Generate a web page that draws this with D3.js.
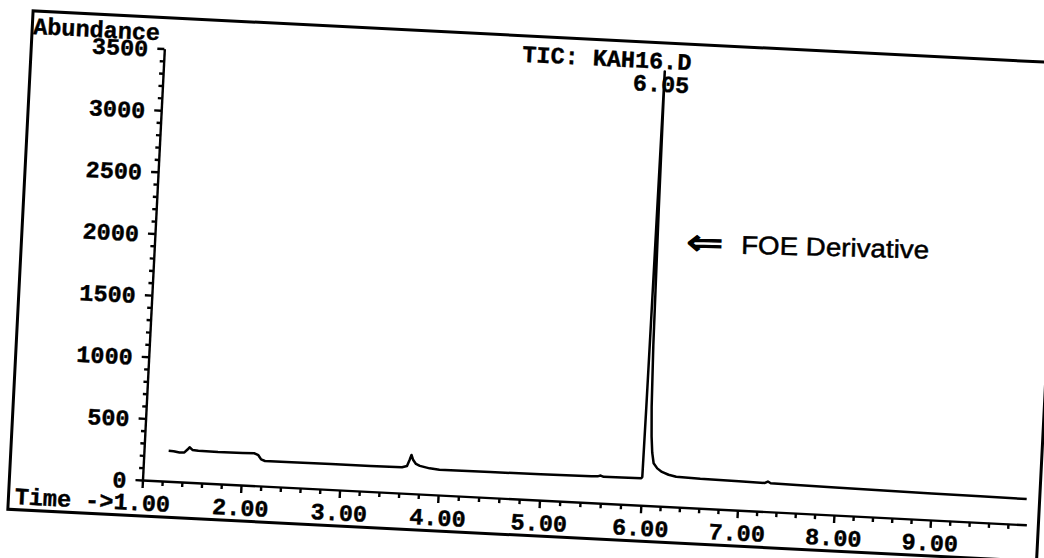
<!DOCTYPE html>
<html>
<head>
<meta charset="utf-8">
<script src="https://cdn.jsdelivr.net/npm/d3@7"></script>
<style>
body { margin: 0; background: #fff; }
svg { display: block; }
.mono { font-family: "Liberation Mono", "DejaVu Sans Mono", monospace; font-weight: bold; font-size: 23.5px; fill: #000; stroke: #000; stroke-width: 0.4px; }
</style>
</head>
<body>
<svg id="chart" width="1044" height="558"></svg>
<script>
// TIC trace (time in min, abundance)
var times = [1.25, 1.30, 1.36, 1.41, 1.44, 1.46, 1.49, 1.55, 1.75, 2.00, 2.12, 2.16, 2.19, 2.23,
             2.50, 2.90, 3.30, 3.62, 3.67, 3.695, 3.71, 3.73, 3.76, 3.80, 3.90, 4.00, 4.50, 5.00,
             5.50, 5.56, 5.59, 5.62, 5.80, 5.99, 6.00, 6.005, 6.012, 6.02, 6.03, 6.045, 6.06,
             6.075, 6.09, 6.11, 6.15, 6.20, 6.27, 6.35, 6.60, 7.00, 7.27, 7.30, 7.33, 7.60,
             8.00, 8.50, 9.00, 9.50, 9.98];
var abundance = [248, 246, 238, 240, 265, 284, 264, 260, 258, 260, 262, 248, 215, 204,
                 205, 207, 206, 210, 222, 275, 313, 272, 242, 228, 212, 205, 207, 210,
                 214, 216, 224, 215, 216, 218, 230, 800, 2000, 3520, 2400, 1300, 800,
                 560, 430, 345, 305, 278, 258, 245, 238, 234, 231, 244, 231, 228,
                 224, 219, 215, 211, 208];

var xTicks = [1, 2, 3, 4, 5, 6, 7, 8, 9];
var yTicks = [0, 500, 1000, 1500, 2000, 2500, 3000, 3500];
var title = "TIC: KAH16.D";
var peakLabel = "6.05";
var yTitle = "Abundance";
var xTitle = "Time ->";
var note = "FOE Derivative";

var data = times.map(function(t, i){ return {t: t, a: abundance[i]}; });

// the print was scanned a bit crooked and stretched, so the time scale is piecewise
var x = d3.scaleLinear().domain([1, 4, 6, 9, 9.99]).range([0, 296, 499, 789, 885]);
var y = d3.scaleLinear().domain([0, 3500]).range([0, -432]);

var svg = d3.select("#chart");
var g = svg.append("g").attr("transform", "translate(142.5,480) rotate(2.9)");

// outer frame of the print
g.append("rect")
    .attr("x", -133).attr("y", -463)
    .attr("width", 1030).attr("height", 499)
    .attr("fill", "none").attr("stroke", "#000").attr("stroke-width", 3);

//minor ticks
var xMinor = d3.range(1.2, 9.9, 0.2).filter(function(v){ return Math.abs(v - Math.round(v)) > 0.05; });
var yMinor = d3.range(100, 3500, 100).filter(function(v){ return v % 500 != 0; });

g.append("g")
    .call(d3.axisBottom(x).tickValues(xMinor).tickSize(5).tickSizeOuter(0).tickFormat(""))
    .call(function(s){ s.select(".domain").remove(); });
g.append("g")
    .call(d3.axisLeft(y).tickValues(yMinor).tickSize(4).tickSizeOuter(0).tickFormat(""))
    .call(function(s){ s.select(".domain").remove(); });

var xAxis = g.append("g")
    .call(d3.axisBottom(x).tickValues(xTicks).tickSize(8).tickSizeOuter(0).tickFormat(d3.format(".2f")));
xAxis.selectAll("text").attr("class", "mono").attr("y", 30.5).attr("dy", 0);

var yAxis = g.append("g")
    .call(d3.axisLeft(y).tickValues(yTicks).tickSize(7).tickSizeOuter(0).tickPadding(9).tickFormat(d3.format("d")));
yAxis.selectAll("text").attr("class", "mono").attr("dy", "0.35em");

g.selectAll(".domain, .tick line").attr("stroke", "#000").attr("stroke-width", 2.4);

// the trace
g.append("path")
    .datum(data)
    .attr("fill", "none")
    .attr("stroke", "#000")
    .attr("stroke-width", 2.5)
    .attr("stroke-linejoin", "round")
    .attr("d", d3.line().x(function(d){ return x(d.t); }).y(function(d){ return y(d.a); }));

// texts
g.append("text").attr("class", "mono")
    .attr("x", -132).attr("y", -440)
    .text(yTitle);
g.append("text").attr("class", "mono")
    .attr("x", -28).attr("y", 30.5).attr("text-anchor", "end")
    .text(xTitle);
g.append("text").attr("class", "mono")
    .attr("x", (x.range()[0] + x.range()[x.range().length - 1]) / 2).attr("y", -437)
    .attr("text-anchor", "middle")
    .text(title);

var apex = data.reduce(function(m, d){ return d.a > m.a ? d : m; });
g.append("text").attr("class", "mono")
    .attr("x", x(apex.t) - 3).attr("y", -414)
    .attr("text-anchor", "middle")
    .text(peakLabel);

// pasted-on note
var ng = g.append("g").attr("transform", "translate(531,-264) rotate(-1.4)");
ng.append("text")
    .attr("x", 0).attr("y", 11)
    .attr("textLength", 37).attr("lengthAdjust", "spacingAndGlyphs")
    .style("font-family", "'DejaVu Sans', sans-serif").style("font-size", "36px")
    .attr("stroke", "#000").attr("stroke-width", 1.2)
    .text("\u21D0");
ng.append("text")
    .attr("x", 55).attr("y", 9)
    .attr("textLength", 188).attr("lengthAdjust", "spacingAndGlyphs")
    .style("font-family", "'Liberation Sans', Arial, sans-serif").style("font-size", "25.5px")
    .attr("stroke", "#000").attr("stroke-width", 0.5)
    .text(note);
</script>
</body>
</html>
